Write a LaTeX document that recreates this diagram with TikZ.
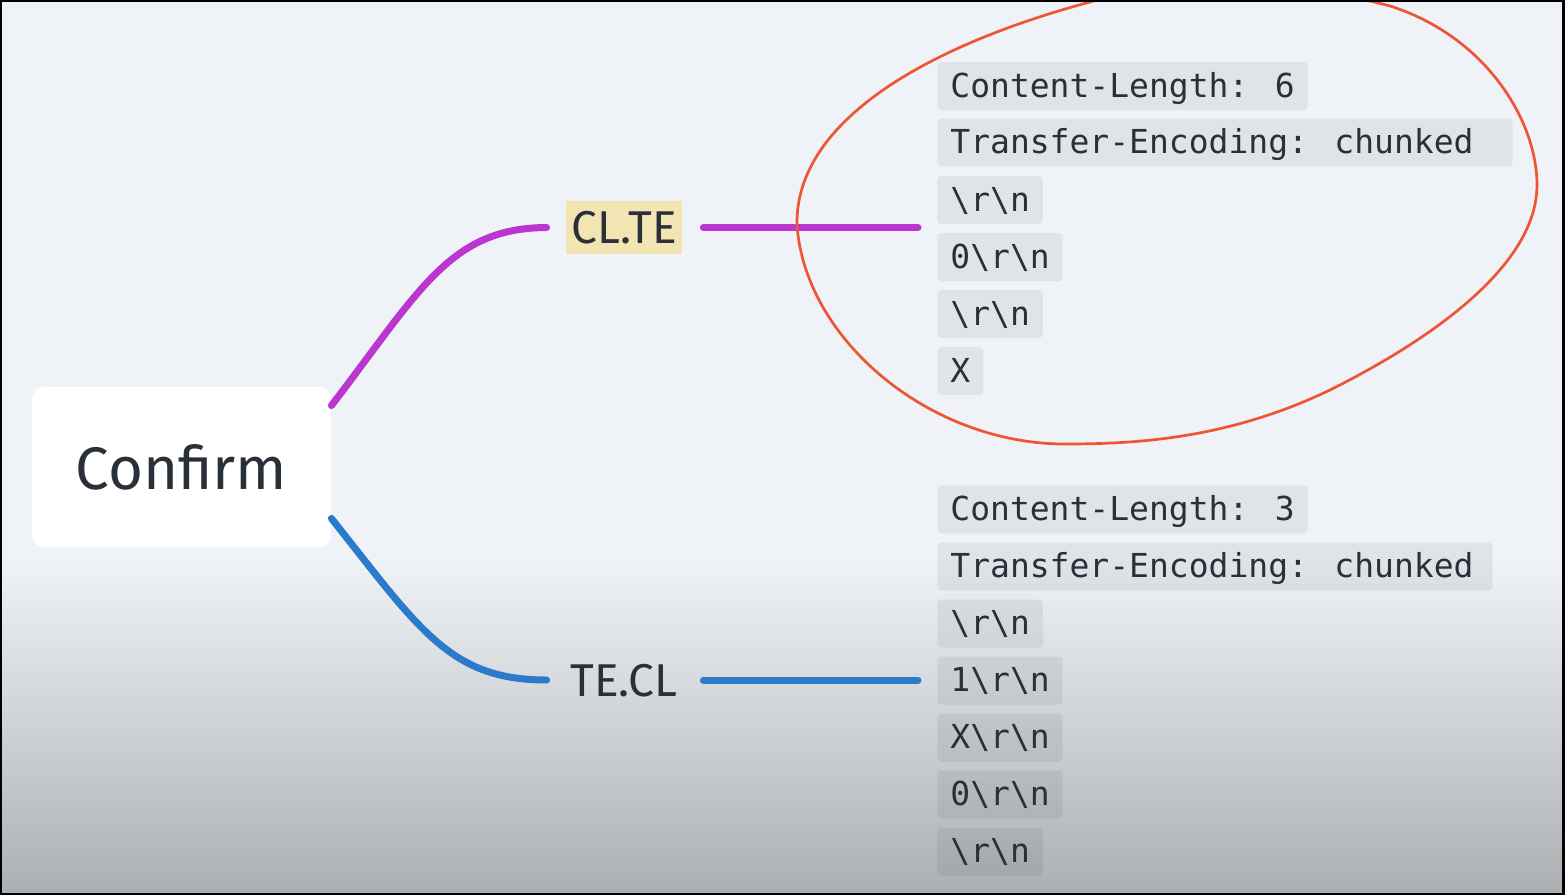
\documentclass[tikz,border=0pt]{standalone}
\usepackage{fontspec}
\setmainfont{Fira Sans}
\newfontfamily\codefont{DejaVu Sans Mono}
\usetikzlibrary{calc}
\definecolor{bgtop}{HTML}{EFF3F7}
\definecolor{bgbot}{HTML}{ACAFB2}
\definecolor{ink}{HTML}{2A3038}
\definecolor{magen}{HTML}{BB35CF}
\definecolor{blueline}{HTML}{2B7BCB}
\definecolor{hilite}{HTML}{F2E4B3}
\definecolor{redring}{HTML}{EE5535}
\definecolor{boxtint}{HTML}{1C2C3C}
\tikzset{
  codebox/.style={anchor=west, fill=boxtint, fill opacity=0.075, text opacity=1,
    text=ink, rounded corners=2pt, inner xsep=6.5pt, inner ysep=0pt,
    minimum height=24pt, text height=13.5pt, text depth=2.5pt,
    font=\codefont\fontsize{16.5pt}{20pt}\selectfont},
  branchlabel/.style={text=ink, inner sep=0pt, minimum width=58pt, minimum height=26.5pt,
    font=\fontsize{23pt}{27pt}\selectfont},
  conn/.style={line width=3.5pt, line cap=round},
}
\newcommand{\bs}{\textbackslash}
\begin{document}
\begin{tikzpicture}[x=0.5pt,y=-0.5pt]
\useasboundingbox (0,0) rectangle (1565,895);
% background
\fill[bgtop] (0,0) rectangle (1565,895);
\shade[top color=bgtop, bottom color=bgbot] (0,560) rectangle (1565,895);

% root node
\node[fill=white, rounded corners=6pt, minimum width=149.5pt, minimum height=80pt,
      text=ink, font=\fontsize{30pt}{35pt}\selectfont] (confirm) at (181.5,467) {Confirm};

% branch labels
\node[branchlabel, fill=hilite] (clte) at (624,227.5) {CL.TE};
\node[branchlabel] (tecl) at (624,681) {TE.CL};

% top code boxes
\node[codebox] (t1) at (937,86) {Content-Length: 6};
\node[codebox] (t2) at (937,142.5) {Transfer-Encoding: chunked\hspace*{13pt}};
\node[codebox] (t3) at (937,200) {\bs r\bs n};
\node[codebox] (t4) at (937,257) {0\bs r\bs n};
\node[codebox] (t5) at (937,314) {\bs r\bs n};
\node[codebox] (t6) at (937,371) {X};

% bottom code boxes
\node[codebox] (b1) at (937,509.5) {Content-Length: 3};
\node[codebox] (b2) at (937,566.5) {Transfer-Encoding: chunked\hspace*{3pt}};
\node[codebox] (b3) at (937,623.5) {\bs r\bs n};
\node[codebox] (b4) at (937,680.5) {1\bs r\bs n};
\node[codebox] (b5) at (937,737.5) {X\bs r\bs n};
\node[codebox] (b6) at (937,794.5) {0\bs r\bs n};
\node[codebox] (b7) at (937,851.5) {\bs r\bs n};

% connector anchor points
\coordinate (cA) at ($(confirm.north east)+(0,19)$);
\coordinate (cB) at ($(confirm.south east)+(0,-29)$);
\coordinate (clIn) at ($(clte.west)+(-19,0)$);
\coordinate (clOut) at ($(clte.east)+(21,0)$);
\coordinate (clEnd) at ($(t3.west |- clte.west)+(-19,0)$);
\coordinate (teIn) at ($(tecl.west)+(-19,-1)$);
\coordinate (teOut) at ($(tecl.east)+(21,-1)$);
\coordinate (teEnd) at ($(b4.west |- teOut)+(-19,0)$);

% connectors
\draw[conn, magen] (cA) .. controls (420,290) and (450,228) .. (clIn);
\draw[conn, magen] (clOut) -- (clEnd);
\draw[conn, blueline] (cB) .. controls (420,630) and (450,680) .. (teIn);
\draw[conn, blueline] (teOut) -- (teEnd);

% hand-drawn ring
\begin{scope}
\clip (0,0) rectangle (1565,895);
\draw[redring, line width=1.35pt] (797,225)
  .. controls (795,120) and (930,45) .. (1090,2)
  .. controls (1190,-25) and (1300,-18) .. (1390,6)
  .. controls (1485,36) and (1537,120) .. (1537,185)
  .. controls (1537,262) and (1440,335) .. (1330,390)
  .. controls (1230,438) and (1140,444) .. (1065,444)
  .. controls (930,444) and (805,340) .. cycle;
\end{scope}

% frame
\draw[black, line width=1.2pt] (1,1) rectangle (1563.5,894);
\end{tikzpicture}
\end{document}
